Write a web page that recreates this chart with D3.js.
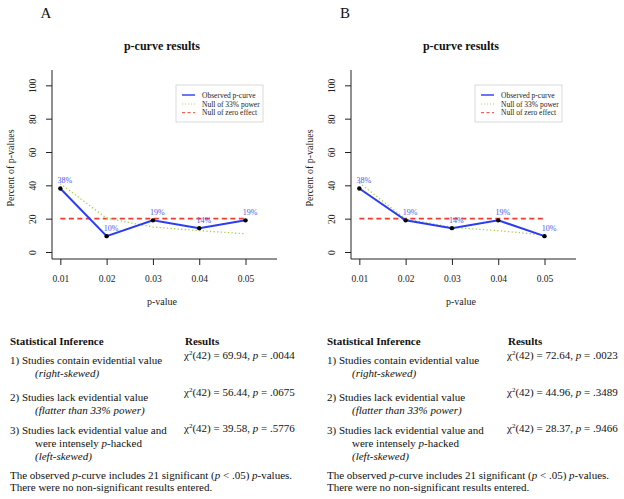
<!DOCTYPE html>
<html>
<head>
<meta charset="utf-8">
<script src="https://cdn.jsdelivr.net/npm/d3@7"></script>
<style>
  html, body { margin: 0; padding: 0; background: #fff; }
  svg { display: block; }
  text { font-family: "Liberation Serif", "Times New Roman", serif; }
</style>
</head>
<body>
<script>
// ---------------- DATA ----------------
const pValues = [0.01, 0.02, 0.03, 0.04, 0.05];
const xTickLabels = ["0.01", "0.02", "0.03", "0.04", "0.05"];
const yTicks = [0, 20, 40, 60, 80, 100];

const observedA = [38.1, 9.5, 19.0, 14.3, 19.0];
const power33A  = [41.0, 20.3, 15.0, 12.8, 10.9];
const observedB = [38.1, 19.0, 14.3, 19.0, 9.5];
const power33B  = [41.5, 19.8, 14.8, 12.8, 10.2];
const nullZero  = [20, 20, 20, 20, 20];

const panelLabels = ["A", "B"];
const chartTitle = "p-curve results";
const legendLabels = ["Observed p-curve", "Null of 33% power", "Null of zero effect"];

const testLabels = ["1) Studies contain evidential value", "2) Studies lack evidential value", "3) Studies lack evidential value and"];
const testShapes = ["(right-skewed)", "(flatter than 33% power)", "(left-skewed)"];
const chiA = ["69.94", "56.44", "39.58"];
const pA   = [".0044", ".0675", ".5776"];
const chiB = ["72.64", "44.96", "28.37"];
const pB   = [".0023", ".3489", ".9466"];
const degreesFreedom = 42;
const nSignificant = 21;

// ---------------- STYLE ----------------
const W = 624, H = 499;
const BLUE = "#2b3cf2", BLUE_TXT = "#4a5af0", RED = "#f03a2e", GREEN = "#a9cf4a";

const svg = d3.select("body").append("svg").attr("width", W).attr("height", H);
svg.append("rect").attr("width", W).attr("height", H).attr("fill", "#fff");

function drawPanel(offX, label, observed, power33) {
  const g = svg.append("g").attr("transform", `translate(${offX},0)`);
  const left = 52, right = 277, top = 70, bottom = 259;
  const x = d3.scaleLinear().domain([0.0082, 0.0568]).range([left, right]);
  const y = d3.scaleLinear().domain([-4.2, 109.2]).range([bottom, top]);

  // panel letter
  g.append("text").attr("x", 46).attr("y", 17.5).attr("text-anchor", "middle")
    .attr("font-size", 15).attr("fill", "#111").text(label);
  // title
  g.append("text").attr("x", 162).attr("y", 50).attr("text-anchor", "middle")
    .attr("font-size", 12).attr("font-weight", "bold").attr("fill", "#111").text(chartTitle);

  // L-box
  g.append("path").attr("d", `M${left},${top}V${bottom}H${right}`)
    .attr("fill", "none").attr("stroke", "#222").attr("stroke-width", 1);

  // x axis
  const xa = g.append("g").attr("transform", `translate(0,${bottom})`)
    .call(d3.axisBottom(x).tickValues(pValues).tickFormat((d, i) => xTickLabels[i]).tickSize(6).tickSizeOuter(0));
  xa.select(".domain").remove();
  xa.selectAll(".tick line").attr("stroke", "#222");
  xa.selectAll(".tick text").attr("y", 22.5).attr("dy", null)
    .attr("font-size", 9.5).attr("font-family", "Liberation Serif, serif").attr("fill", "#222");

  // y axis
  const ya = g.append("g").attr("transform", `translate(${left},0)`)
    .call(d3.axisLeft(y).tickValues(yTicks).tickSize(6).tickSizeOuter(0));
  ya.select(".domain").remove();
  ya.selectAll(".tick line").attr("stroke", "#222");
  ya.selectAll(".tick text").attr("x", 0).attr("y", 0).attr("dy", null)
    .attr("text-anchor", "middle").attr("transform", "translate(-16,0) rotate(-90)")
    .attr("font-size", 9.5).attr("font-family", "Liberation Serif, serif").attr("fill", "#222");

  // axis titles
  g.append("text").attr("x", 162).attr("y", 305).attr("text-anchor", "middle")
    .attr("font-size", 10).attr("fill", "#222").text("p-value");
  g.append("text").attr("transform", "translate(14,168) rotate(-90)").attr("text-anchor", "middle")
    .attr("font-size", 10).attr("fill", "#222").text("Percent of p-values");

  const line = d3.line().x((d, i) => x(pValues[i])).y(d => y(d));

  // null of zero effect (red dashed)
  g.append("path").datum(nullZero).attr("d", line).attr("fill", "none")
    .attr("stroke", RED).attr("stroke-width", 1.6).attr("stroke-dasharray", "5,3.5");
  // null of 33% power (green dotted)
  g.append("path").datum(power33).attr("d", line).attr("fill", "none")
    .attr("stroke", GREEN).attr("stroke-width", 1.3).attr("stroke-dasharray", "1.3,2.3");
  // observed
  g.append("path").datum(observed).attr("d", line).attr("fill", "none")
    .attr("stroke", BLUE).attr("stroke-width", 2);
  g.selectAll("circle.pt").data(observed).enter().append("circle")
    .attr("cx", (d, i) => x(pValues[i])).attr("cy", d => y(d)).attr("r", 2.2).attr("fill", "#000");
  g.selectAll("text.pct").data(observed).enter().append("text")
    .attr("x", (d, i) => x(pValues[i]) + 4.5).attr("y", d => y(d) - 5.5)
    .attr("text-anchor", "middle").attr("font-size", 8).attr("fill", BLUE_TXT)
    .text(d => Math.round(d) + "%");

  // legend
  const lg = g.append("g");
  lg.append("rect").attr("x", 176).attr("y", 85).attr("width", 87).attr("height", 37)
    .attr("fill", "#fff").attr("stroke", "#d0d0d0").attr("stroke-width", 0.8);
  const rowsY = [95, 104, 112.7];
  const styles = [
    {c: BLUE, w: 1.4, d: null},
    {c: GREEN, w: 0.9, d: "1,2"},
    {c: RED, w: 1, d: "3,2.5"}
  ];
  legendLabels.forEach((t, i) => {
    lg.append("line").attr("x1", 182).attr("x2", 195).attr("y1", rowsY[i]).attr("y2", rowsY[i])
      .attr("stroke", styles[i].c).attr("stroke-width", styles[i].w).attr("stroke-dasharray", styles[i].d);
    lg.append("text").attr("x", 202).attr("y", rowsY[i] + 2.7).attr("font-size", 7.5)
      .attr("fill", "#222").text(t);
  });
}

drawPanel(0, panelLabels[0], observedA, power33A);
drawPanel(299, panelLabels[1], observedB, power33B);

// ---------------- TABLES ----------------
function drawTable(x0, xRes, chi, pv) {
  const g = svg.append("g");
  const ink = "#111";
  const indent = x0 + 25;
  g.append("text").attr("x", x0).attr("y", 345).attr("font-size", 11).attr("font-weight", "bold")
    .attr("fill", ink).text("Statistical Inference");
  g.append("text").attr("x", xRes + 1).attr("y", 345).attr("font-size", 11).attr("font-weight", "bold")
    .attr("fill", ink).text("Results");

  const labelY = [364, 400.5, 434];
  const shapeY = [377, 414, 460];
  const resY = [359, 395.5, 432];
  testLabels.forEach((t, i) => {
    g.append("text").attr("x", x0).attr("y", labelY[i]).attr("font-size", 11).attr("fill", ink).text(t);
    g.append("text").attr("x", indent).attr("y", shapeY[i]).attr("font-size", 11)
      .attr("font-style", "italic").attr("fill", ink).text(testShapes[i]);
    const r = g.append("text").attr("x", xRes).attr("y", resY[i]).attr("font-size", 11).attr("fill", ink);
    r.append("tspan").text("χ");
    r.append("tspan").attr("font-size", 7).attr("dy", -4).text("2");
    r.append("tspan").attr("dy", 4).text(`(${degreesFreedom}) = ${chi[i]}, `);
    r.append("tspan").attr("font-style", "italic").text("p");
    r.append("tspan").text(` = ${pv[i]}`);
  });
  const h = g.append("text").attr("x", indent).attr("y", 447).attr("font-size", 11).attr("fill", ink);
  h.append("tspan").text("were intensely ");
  h.append("tspan").attr("font-style", "italic").text("p");
  h.append("tspan").text("-hacked");

  const f = g.append("text").attr("x", x0).attr("y", 479).attr("font-size", 11).attr("fill", ink);
  f.append("tspan").text("The observed ");
  f.append("tspan").attr("font-style", "italic").text("p");
  f.append("tspan").text(`-curve includes ${nSignificant} significant (`);
  f.append("tspan").attr("font-style", "italic").text("p");
  f.append("tspan").text(" < .05) ");
  f.append("tspan").attr("font-style", "italic").text("p");
  f.append("tspan").text("-values.");
  g.append("text").attr("x", x0).attr("y", 491).attr("font-size", 11).attr("fill", ink)
    .text("There were no non-significant results entered.");
}
drawTable(10, 184, chiA, pA);
drawTable(327, 507, chiB, pB);
</script>
</body>
</html>
